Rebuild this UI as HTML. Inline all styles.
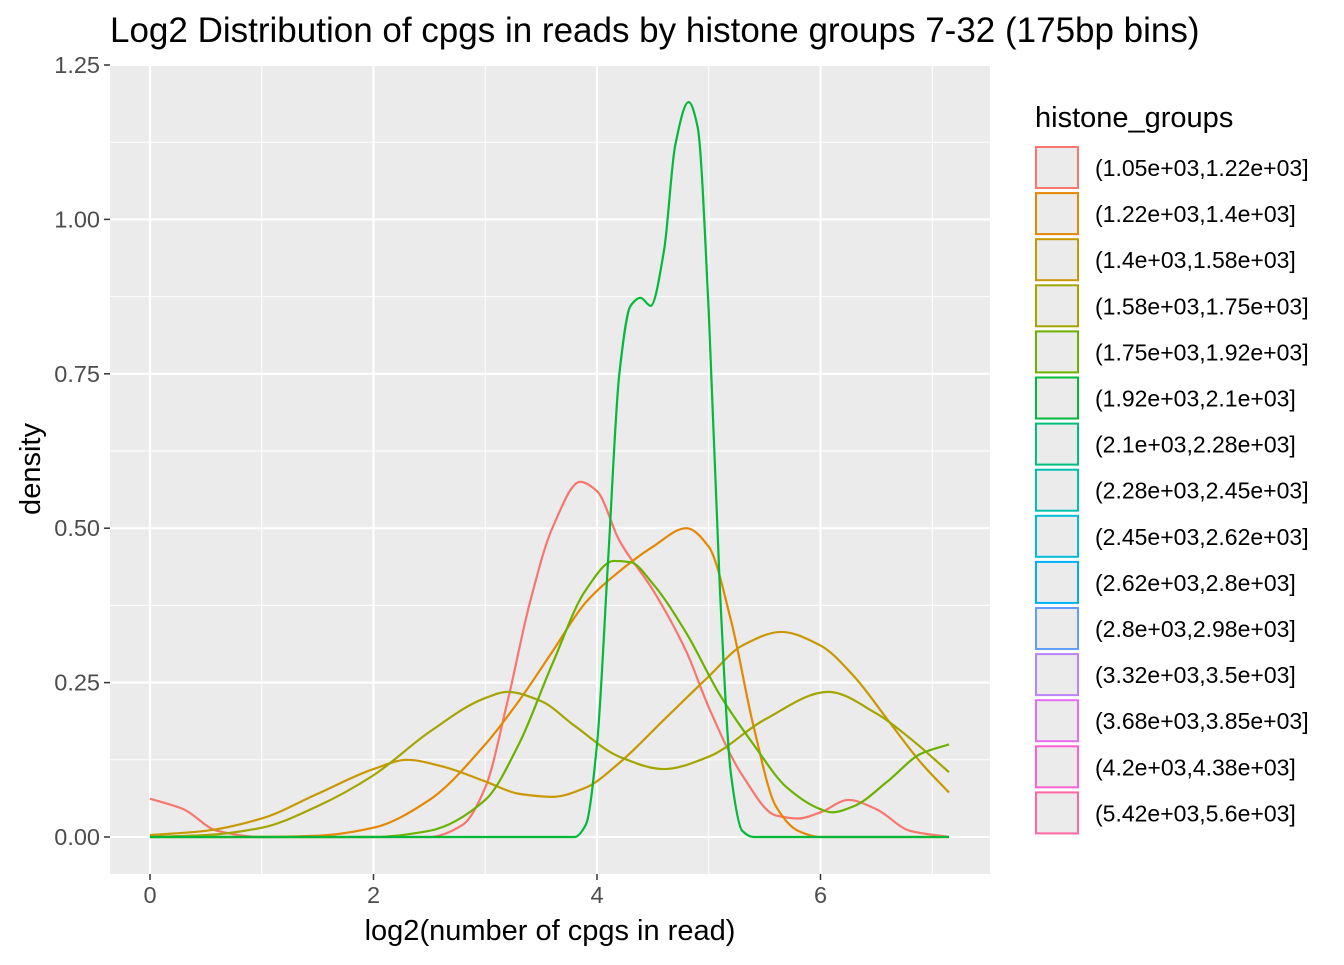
<!DOCTYPE html>
<html><head><meta charset="utf-8"><style>
body{margin:0;background:#fff;font-family:"Liberation Sans",sans-serif;}
</style></head><body>
<svg id="chart" width="1344" height="960" xmlns="http://www.w3.org/2000/svg">
<text x="110" y="42" font-size="35" fill="#000">Log2 Distribution of cpgs in reads by histone groups 7-32 (175bp bins)</text>
<rect x="110" y="64" width="880" height="810" fill="#EBEBEB"/>
<g id="grid"></g>
<g id="series"></g>
<g id="axes"></g>
<text x="550" y="940" font-size="29" text-anchor="middle" fill="#000">log2(number of cpgs in read)</text>
<text transform="translate(40,469) rotate(-90)" font-size="29" text-anchor="middle" fill="#000">density</text>
<text x="1035" y="127" font-size="29" fill="#000">histone_groups</text>
<g id="legend"></g>
</svg>
<script>
const xTicks=[0,2,4,6];
const yTicks=[0,0.25,0.5,0.75,1,1.25];
const yTickLabels=["0.00","0.25","0.50","0.75","1.00","1.25"];
const groups=["(1.05e+03,1.22e+03]","(1.22e+03,1.4e+03]","(1.4e+03,1.58e+03]","(1.58e+03,1.75e+03]","(1.75e+03,1.92e+03]","(1.92e+03,2.1e+03]","(2.1e+03,2.28e+03]","(2.28e+03,2.45e+03]","(2.45e+03,2.62e+03]","(2.62e+03,2.8e+03]","(2.8e+03,2.98e+03]","(3.32e+03,3.5e+03]","(3.68e+03,3.85e+03]","(4.2e+03,4.38e+03]","(5.42e+03,5.6e+03]"];
const colors=["#F8766D","#E58700","#C99800","#A3A500","#6BB100","#00BA38","#00BF7D","#00C0AF","#00BCD8","#00B0F6","#619CFF","#B983FF","#E76BF3","#FD61D1","#FF67A4"];
const s0x=[0,0.3,0.6,1,2,2.5,2.8,3.0,3.2,3.4,3.6,3.85,4.0,4.2,4.5,4.8,5.0,5.3,5.6,5.8,6.0,6.25,6.5,6.8,7.15];
const s0y=[0.062,0.045,0.01,0,0,0,0.02,0.08,0.22,0.38,0.5,0.575,0.56,0.48,0.4,0.3,0.21,0.1,0.035,0.03,0.04,0.06,0.045,0.01,0];
const s1x=[0,1,1.5,2,2.5,3,3.3,3.6,3.9,4.2,4.5,4.8,5.0,5.2,5.4,5.6,5.8,6,7.15];
const s1y=[0,0,0.002,0.015,0.06,0.15,0.22,0.3,0.38,0.43,0.47,0.5,0.47,0.35,0.18,0.05,0.01,0,0];
const s2x=[0,0.5,1,1.5,2,2.3,2.6,3,3.3,3.6,3.9,4.2,4.6,5,5.3,5.65,6,6.3,6.6,6.9,7.15];
const s2y=[0.003,0.01,0.03,0.07,0.11,0.125,0.115,0.09,0.07,0.065,0.08,0.12,0.19,0.26,0.31,0.332,0.31,0.26,0.19,0.12,0.072];
const s3x=[0,0.5,1,1.5,2,2.5,3,3.2,3.5,3.8,4.2,4.6,5.0,5.5,6.07,6.5,6.8,7.15];
const s3y=[0,0.003,0.015,0.05,0.1,0.17,0.225,0.235,0.22,0.18,0.13,0.11,0.13,0.19,0.235,0.2,0.16,0.105];
const s4x=[0,2,2.5,3,3.3,3.6,3.9,4.15,4.3,4.5,4.8,5.1,5.4,5.7,6.0,6.1,6.3,6.6,6.9,7.15];
const s4y=[0,0,0.01,0.06,0.15,0.28,0.4,0.447,0.445,0.41,0.33,0.23,0.15,0.08,0.045,0.04,0.05,0.09,0.135,0.15];
const s5x=[0,3.8,3.9,4.0,4.1,4.2,4.3,4.39,4.48,4.6,4.7,4.82,4.9,5.0,5.1,5.2,5.3,5.4,7.15];
const s5y=[0,0,0.02,0.15,0.45,0.75,0.86,0.873,0.86,0.95,1.12,1.19,1.15,0.85,0.4,0.1,0.01,0,0];
const seriesX=[s0x,s1x,s2x,s3x,s4x,s5x];
const seriesY=[s0y,s1y,s2y,s3y,s4y,s5y];

const X=v=>150+v*111.75;
const Y=v=>837-v*617.6;
const NS="http://www.w3.org/2000/svg";
function mk(tag,attrs,parent){const e=document.createElementNS(NS,tag);for(const k in attrs)e.setAttribute(k,attrs[k]);parent.appendChild(e);return e;}
const grid=document.getElementById('grid'),axes=document.getElementById('axes'),ser=document.getElementById('series'),leg=document.getElementById('legend');
for(let i=0;i<yTicks.length;i++){
  const y=Y(yTicks[i]);
  const l=mk('line',{x1:110,x2:990,y1:y,y2:y,stroke:'#fff','stroke-width':2.1},grid);
  
  
  if(i<yTicks.length-1){const ym=Y((yTicks[i]+yTicks[i+1])/2);
    const m=mk('line',{x1:110,x2:990,y1:ym,y2:ym,stroke:'#fff','stroke-width':1},grid);
    
    }
  const t=mk('line',{x1:104,x2:110,y1:y,y2:y,stroke:'#333','stroke-width':1.5},axes);
  
  
  const tx=mk('text',{x:100,y:y+8,'font-size':23.5,'text-anchor':'end',fill:'#4D4D4D'},axes);
  tx.textContent=yTickLabels[i];
  
  
}
for(let i=0;i<xTicks.length;i++){
  const x=X(xTicks[i]);
  const l=mk('line',{x1:x,x2:x,y1:64,y2:874,stroke:'#fff','stroke-width':2.1},grid);
  
  
  const xm=X(xTicks[i]+1);
  const m=mk('line',{x1:xm,x2:xm,y1:64,y2:874,stroke:'#fff','stroke-width':1},grid);
  
  
  const t=mk('line',{x1:x,x2:x,y1:874,y2:880,stroke:'#333','stroke-width':1.5},axes);
  
  
  const tx=mk('text',{x:x,y:903,'font-size':23.5,'text-anchor':'middle',fill:'#4D4D4D'},axes);
  tx.textContent=xTicks[i];
  
  
}
// monotone cubic (Fritsch-Carlson) path
function path(xs,ys){
  const n=xs.length,px=xs.map(X),py=ys.map(Y);
  const d=[],m=new Array(n);
  for(let i=0;i<n-1;i++)d.push((py[i+1]-py[i])/(px[i+1]-px[i]));
  m[0]=d[0];m[n-1]=d[n-2];
  for(let i=1;i<n-1;i++){
    if(d[i-1]*d[i]<=0)m[i]=0;
    else{const h0=px[i]-px[i-1],h1=px[i+1]-px[i];m[i]=3*(h0+h1)/((2*h1+h0)/d[i-1]+(h1+2*h0)/d[i]);}
  }
  let s='M'+px[0]+','+py[0];
  for(let i=0;i<n-1;i++){
    const h=(px[i+1]-px[i])/3;
    s+=' C'+(px[i]+h)+','+(py[i]+m[i]*h)+' '+(px[i+1]-h)+','+(py[i+1]-m[i+1]*h)+' '+px[i+1]+','+py[i+1];
  }
  return s;
}
for(let s=0;s<seriesX.length;s++){
  const e=mk('path',{d:path(seriesX[s],seriesY[s]),fill:'none',stroke:colors[s],'stroke-width':2.2},ser);
  
  
}
for(let i=0;i<groups.length;i++){
  const y=147+i*46.1;
  const r=mk('rect',{x:1036,y:y,width:42,height:41,fill:'#EBEBEB',stroke:colors[i],'stroke-width':2},leg);
  
  
  const t=mk('text',{x:1095,y:y+29,'font-size':23,fill:'#000'},leg);
  t.textContent=groups[i];
  
  
}
</script>
</body></html>
